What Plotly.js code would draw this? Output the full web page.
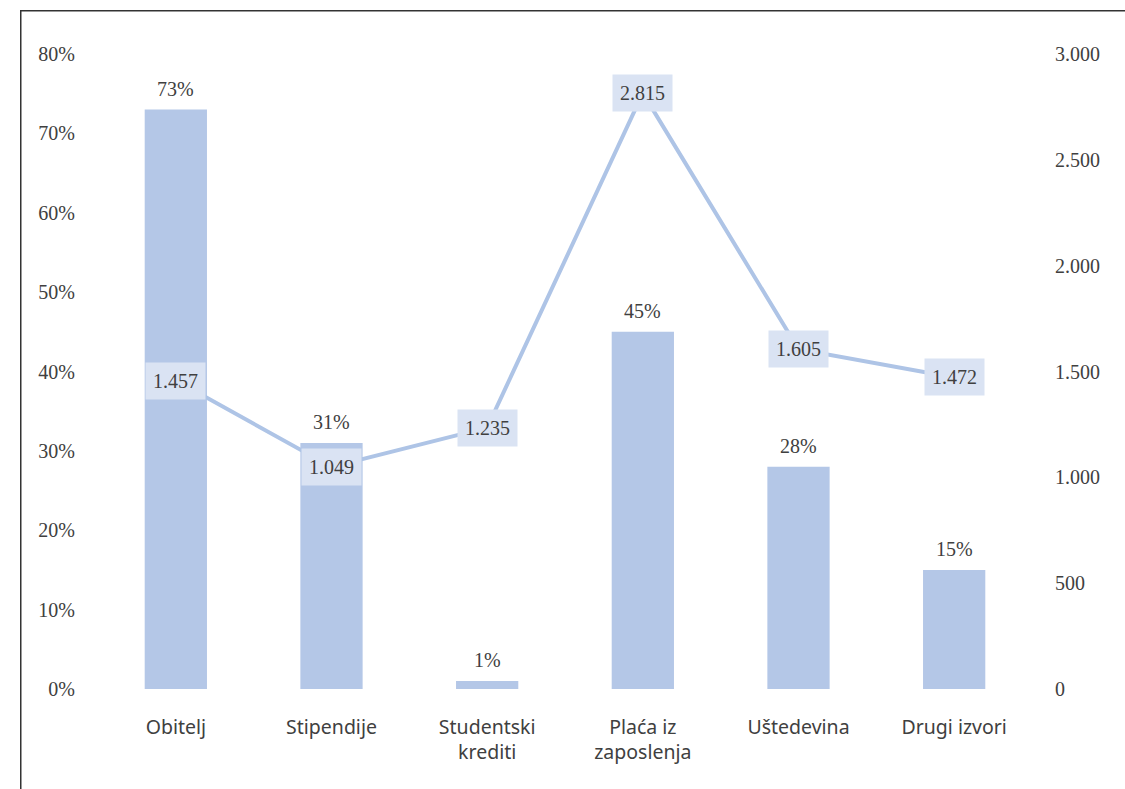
<!DOCTYPE html>
<html>
<head>
<meta charset="utf-8">
<script src="https://cdn.plot.ly/plotly-3.0.1.min.js"></script>
<style>html,body{margin:0;padding:0;background:#fff;}#chart{width:1125px;height:789px;}</style>
</head>
<body>
<div id="chart"></div>
<script>
const categories = ["Obitelj", "Stipendije", "Studentski<br>krediti", "Plaća iz<br>zaposlenja", "Uštedevina", "Drugi izvori"];
const shareValues = [0.73, 0.31, 0.01, 0.45, 0.28, 0.15];
const shareLabels = ["73%", "31%", "1%", "45%", "28%", "15%"];
const amountValues = [1457, 1049, 1235, 2815, 1605, 1472];
const amountLabels = ["1.457", "1.049", "1.235", "2.815", "1.605", "1.472"];
const leftTicks = [0, 0.1, 0.2, 0.3, 0.4, 0.5, 0.6, 0.7, 0.8];
const leftTickText = ["0%", "10%", "20%", "30%", "40%", "50%", "60%", "70%", "80%"];
const rightTicks = [0, 500, 1000, 1500, 2000, 2500, 3000];
const rightTickText = ["0", "500", "1.000", "1.500", "2.000", "2.500", "3.000"];

const numFont = {family: "Liberation Serif, serif", size: 20, color: "#404040"};
const catFont = {family: "Noto Sans, sans-serif", size: 19.5, color: "#404040"};

const barTrace = {
  type: "bar", x: categories, y: shareValues, yaxis: "y",
  marker: {color: "#b4c7e7"}, width: 0.4, hoverinfo: "none"
};
const lineTrace = {
  type: "scatter", mode: "lines", x: categories, y: amountValues, yaxis: "y2",
  line: {color: "#aec4e6", width: 4}, hoverinfo: "none"
};

const annotations = [];
categories.forEach((c, i) => {
  annotations.push({
    x: c, y: shareValues[i], xref: "x", yref: "y", text: shareLabels[i],
    showarrow: false, yanchor: "bottom", yshift: 8, font: numFont
  });
});
categories.forEach((c, i) => {
  annotations.push({
    x: c, y: amountValues[i], xref: "x", yref: "y2", text: amountLabels[i],
    showarrow: false, bgcolor: "#dae3f3", borderpad: 7, font: numFont
  });
});

const layout = {
  width: 1125, height: 789,
  margin: {l: 98, r: 93, t: 54, b: 100},
  paper_bgcolor: "#ffffff", plot_bgcolor: "#ffffff",
  showlegend: false, bargap: 0.6,
  xaxis: {tickfont: catFont, showgrid: false, zeroline: false, showline: false, ticks: "", ticklabelstandoff: 24},
  yaxis: {range: [0, 0.8], tickvals: leftTicks, ticktext: leftTickText, tickfont: numFont,
          showgrid: false, zeroline: false, showline: false, ticks: "", ticklabelstandoff: 22},
  yaxis2: {range: [0, 3000], tickvals: rightTicks, ticktext: rightTickText, tickfont: numFont,
           overlaying: "y", side: "right", showgrid: false, zeroline: false, showline: false, ticks: "", ticklabelstandoff: 22},
  annotations: annotations,
  shapes: [{type: "rect", xref: "paper", yref: "paper", x0: -0.0827, x1: 1.2, y0: -0.5, y1: 1.068,
            line: {color: "#333333", width: 1.5}, fillcolor: "rgba(0,0,0,0)"}]
};

Plotly.newPlot("chart", [barTrace, lineTrace], layout, {displayModeBar: false, staticPlot: true});
</script>
</body>
</html>
